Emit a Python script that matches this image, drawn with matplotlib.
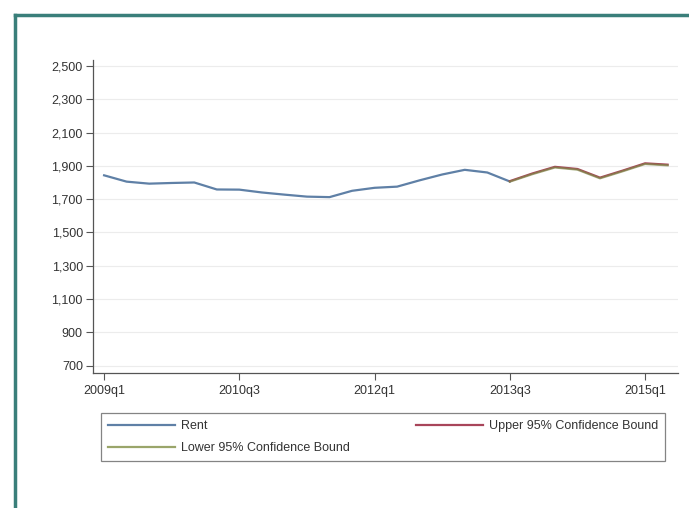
import numpy as np
import matplotlib
matplotlib.use("Agg")
import matplotlib.pyplot as plt
from matplotlib.lines import Line2D

plt.rcParams["font.family"] = ["Liberation Sans", "DejaVu Sans"]

# quarters 2009q1 .. 2015q2
quarters = ["2009q1", "2009q2", "2009q3", "2009q4", "2010q1", "2010q2", "2010q3", "2010q4",
            "2011q1", "2011q2", "2011q3", "2011q4", "2012q1", "2012q2", "2012q3", "2012q4",
            "2013q1", "2013q2", "2013q3", "2013q4", "2014q1", "2014q2", "2014q3", "2014q4",
            "2015q1", "2015q2"]

rent = [1843, 1805, 1793, 1797, 1800, 1758, 1757, 1740, 1727, 1715, 1712, 1750,
        1768, 1775, 1813, 1848, 1876, 1860, 1806]

upper = [1808, 1854, 1894, 1881, 1829, 1871, 1915, 1907]
lower = [1805, 1850, 1890, 1877, 1825, 1867, 1911, 1903]

xtick_labels = ["2009q1", "2010q3", "2012q1", "2013q3", "2015q1"]
ytick_values = [700, 900, 1100, 1300, 1500, 1700, 1900, 2100, 2300, 2500]

x = np.arange(len(quarters))
x_rent = x[:len(rent)]
x_fc = x[len(rent) - 1:]

fig = plt.figure(figsize=(6.89, 5.08), dpi=100)
ax = fig.add_axes([0.1354, 0.2652, 0.8486, 0.6168])

l_rent, = ax.plot(x_rent, rent, color="#5f80a6", lw=1.6, label="Rent")
l_up, = ax.plot(x_fc, upper, color="#a8455a", lw=1.6, label="Upper 95% Confidence Bound")
l_lo, = ax.plot(x_fc, lower, color="#7d8a48", lw=1.6, alpha=0.7,
                label="Lower 95% Confidence Bound")

ax.set_xlim(-0.48, 25.46)
ax.set_ylim(654, 2536)
ax.set_yticks(ytick_values)
ax.set_yticklabels([f"{v:,}" for v in ytick_values])
ax.set_xticks([quarters.index(q) for q in xtick_labels])
ax.set_xticklabels(xtick_labels)

ax.grid(axis="y", color="#ececec", lw=0.8)
ax.set_axisbelow(True)
for s in ["top", "right"]:
    ax.spines[s].set_visible(False)
for s in ["left", "bottom"]:
    ax.spines[s].set_color("#555555")
    ax.spines[s].set_linewidth(0.9)
ax.tick_params(colors="#555555", labelcolor="#333333", labelsize=9, length=5, width=0.8)
ax.tick_params(axis="y", pad=2.5)
ax.tick_params(axis="x", pad=3.5)

leg_handles = [l_rent, Line2D([], [], color="#9aa56a", lw=1.6), l_up]
leg = fig.legend(leg_handles,
                 ["Rent", "Lower 95% Confidence Bound", "Upper 95% Confidence Bound"],
                 ncol=2, mode="expand", loc="upper left",
                 bbox_to_anchor=(0.1466, 0.0906, 0.8184, 0.0964),
                 fontsize=9, handlelength=5.4, fancybox=False, frameon=True,
                 borderaxespad=0, borderpad=0.55, labelspacing=0.8, handletextpad=0.45)
leg.get_frame().set_edgecolor("#666666")
leg.get_frame().set_linewidth(0.9)
for t in leg.get_texts():
    t.set_color("#333333")

# teal page border (top and left)
border = "#3a7f7a"
fig.add_artist(Line2D([14.5 / 689, 1.0], [1 - 14.5 / 508, 1 - 14.5 / 508],
                      transform=fig.transFigure, color=border, lw=2.5))
fig.add_artist(Line2D([14.5 / 689, 14.5 / 689], [0.0, 1 - 14.5 / 508],
                      transform=fig.transFigure, color=border, lw=2.5))

fig.savefig("out.png", dpi=100)
